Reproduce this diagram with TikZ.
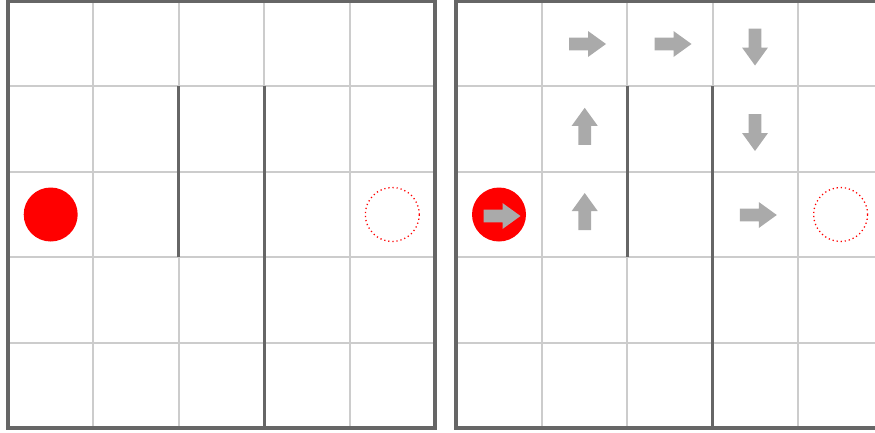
\documentclass[tikz,border=0pt]{standalone}
\definecolor{gridgray}{HTML}{CCCCCC}
\definecolor{wallgray}{HTML}{666666}
\definecolor{arrowgray}{HTML}{AAAAAA}
\definecolor{agentred}{HTML}{FF0000}
\tikzset{
  gridline/.style={line width=2pt, draw=gridgray},
  wall/.style={line width=3pt, draw=wallgray},
  border/.style={line width=4pt, draw=wallgray},
  agent/.style={circle, fill=agentred, minimum size=54pt, inner sep=0pt},
  goal/.style={circle, draw=agentred, line width=1.3pt, dash pattern=on 1.2pt off 2.9pt, minimum size=54pt, inner sep=0pt},
  blockarrow/.pic={\fill[arrowgray] (-18.5,-6.3) -- (0.5,-6.3) -- (0.5,-13) -- (18.5,0) -- (0.5,13) -- (0.5,6.3) -- (-18.5,6.3) -- cycle;}
}
\begin{document}
\begin{tikzpicture}[x=1pt,y=-1pt]
\useasboundingbox (0,0) rectangle (875,432);
\begin{scope}
\clip (0,0) rectangle (875,432);
% grids
\foreach \ox in {8,456.3}{
  \foreach \i in {1,2,3,4}{
    \draw[gridline] ({\ox+\i*85.4},1) -- ({\ox+\i*85.4},428);
    \draw[gridline] (\ox,{1+\i*85.4}) -- ({\ox+427},{1+\i*85.4});
  }
  % walls
  \draw[wall] ({\ox+2*85.4},86.4) -- ({\ox+2*85.4},257.2);
  \draw[wall] ({\ox+3*85.4},86.4) -- ({\ox+3*85.4},428);
  % border
  \draw[border] (\ox,1) rectangle ({\ox+427},428);
}
% left grid agent and goal
\node[agent] (agentL) at (50.7,214.5) {};
\node[goal] (goalL) at (392.3,214.5) {};
% right grid agent and goal
\node[agent] (agentR) at (499,214.5) {};
\node[goal] (goalR) at (840.6,214.5) {};
% policy arrows
\pic at (502,216) {blockarrow};
\pic at (587.5,44) {blockarrow};
\pic at (673,44) {blockarrow};
\pic[rotate=-90] at (755,47) {blockarrow};
\pic[rotate=90] at (584.7,126.3) {blockarrow};
\pic[rotate=-90] at (755,132.5) {blockarrow};
\pic[rotate=90] at (584.7,211.5) {blockarrow};
\pic at (758.3,215) {blockarrow};
\end{scope}
\end{tikzpicture}
\end{document}
